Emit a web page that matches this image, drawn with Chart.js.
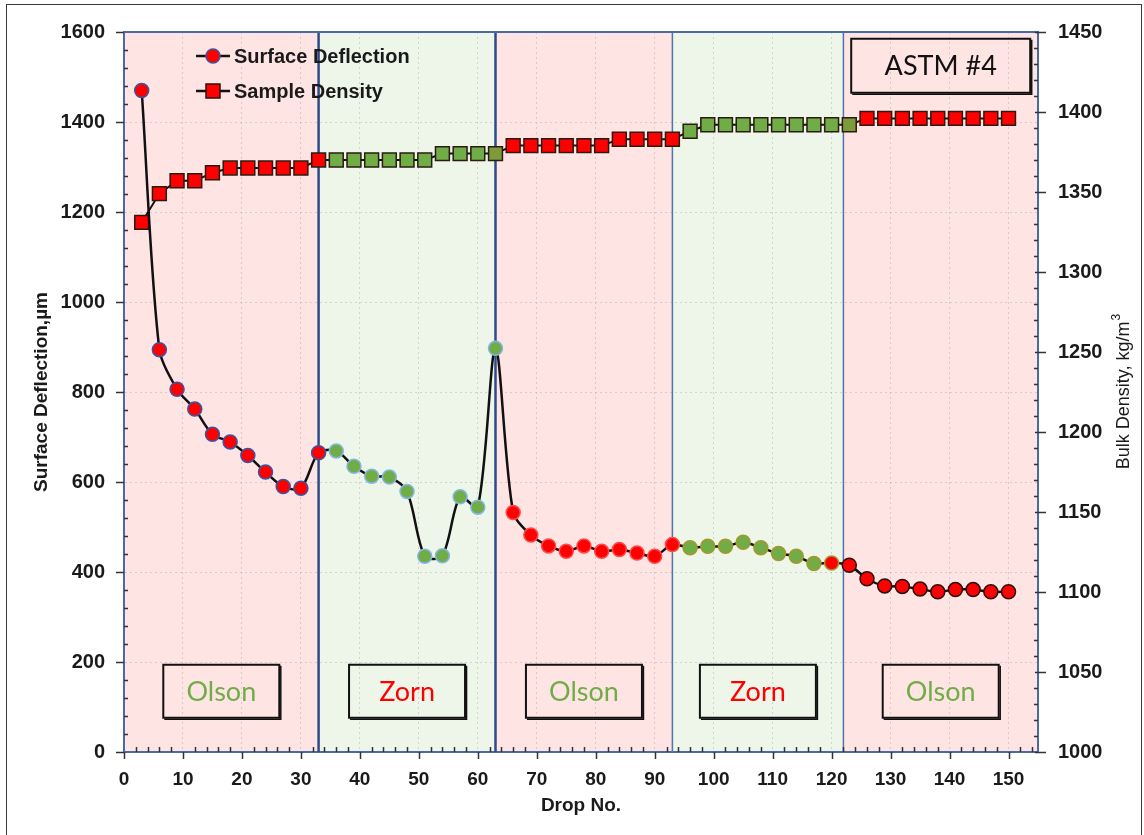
<!DOCTYPE html>
<html>
<head>
<meta charset="utf-8">
<title>ASTM #4 - Surface Deflection and Sample Density</title>
<script src="https://cdn.jsdelivr.net/npm/chart.js@4.4.1/dist/chart.umd.min.js"></script>
<style>
  html, body { margin: 0; padding: 0; background: #fff; overflow: hidden; }
  #frame {
    position: absolute; left: 6px; top: 4px; width: 1136px; height: 900px;
    border: 1.5px solid #3a3a3a; box-sizing: border-box;
  }
  #wrap { position: absolute; left: 0; top: 0; width: 1144px; height: 835px; }
</style>
</head>
<body>
<div id="frame"></div>
<div id="wrap"><canvas id="deflectionChart" width="1144" height="835"></canvas></div>
<script>
// drop numbers (every third drop was recorded)
const drops = [
  3, 6, 9, 12, 15, 18, 21, 24, 27, 30,
  33, 36, 39, 42, 45, 48, 51, 54, 57, 60,
  63, 66, 69, 72, 75, 78, 81, 84, 87, 90,
  93, 96, 99, 102, 105, 108, 111, 114, 117, 120,
  123, 126, 129, 132, 135, 138, 141, 144, 147, 150,
];

// surface deflection, µm (left axis)
const surfaceDeflection = [
  1470, 894, 806, 762, 706, 689, 659, 622, 590, 586,
  665, 669, 635, 613, 611, 579, 435, 436, 567, 544,
  897, 532, 482, 458, 446, 458, 446, 450, 442, 435,
  461, 454, 457, 457, 466, 454, 441, 435, 419, 420,
  415, 385, 369, 368, 362, 356, 361, 361, 356, 356,
];

// bulk density, kg/m3 (right axis)
const sampleDensity = [
  1331, 1349, 1357, 1357, 1362, 1365, 1365, 1365, 1365, 1365,
  1370, 1370, 1370, 1370, 1370, 1370, 1370, 1374, 1374, 1374,
  1374, 1379, 1379, 1379, 1379, 1379, 1379, 1383, 1383, 1383,
  1383, 1388, 1392, 1392, 1392, 1392, 1392, 1392, 1392, 1392,
  1392, 1396, 1396, 1396, 1396, 1396, 1396, 1396, 1396, 1396,
];

// who compacted which stretch of drops
const regionEdges = [0, 33, 63, 93, 122, 155];
const regionNames = ["Olson", "Zorn", "Olson", "Zorn", "Olson"];
const deflectionZornDrops = [[36, 63], [96, 117]];
const densityZornDrops = [[36, 63], [96, 123]];
const specimenName = "ASTM #4";

const FONT = "'Liberation Sans', Arial, sans-serif";
const LABEL_FONT = "Lato, 'Open Sans', sans-serif";
const RED = "#ff0000";
const GREEN = "#70ad47";
const OLIVE = "#7e9b3c";
const AXIS = "#4a69a6";
const GRID = "rgba(170, 170, 170, 0.45)";
const BAND = { Olson: "#ffe4e4", Zorn: "#eef6ea" };
const NAME_COLOR = { Olson: "#70ad47", Zorn: "#ff0000" };
const DEFLECTION_RIM = ["#3d55a0", "#86b6e6", "#ff4a4a", "#a8962e", "#2a1010"];

Chart.defaults.font.family = FONT;
Chart.defaults.color = "#1a1a1a";

const inRanges = (d, ranges) => ranges.some(([a, b]) => d >= a && d <= b);
const regionOf = (d) => {
  for (let i = 0; i < regionNames.length; i++) {
    if (d > regionEdges[i] && d <= regionEdges[i + 1]) return i;
  }
  return regionNames.length - 1;
};

const deflectionFill = drops.map((d) => (inRanges(d, deflectionZornDrops) ? GREEN : RED));
const deflectionRim = drops.map((d) => DEFLECTION_RIM[regionOf(d)]);
const densityFill = drops.map((d) => {
  const range = densityZornDrops.find(([a, b]) => d >= a && d <= b);
  if (!range) return RED;
  return d === range[1] ? OLIVE : GREEN;
});

const plainTick = (v) => String(v);

function framedText(ctx, text, cx, cy, w, h, color) {
  ctx.save();
  ctx.strokeStyle = "#111";
  ctx.lineWidth = 2;
  ctx.strokeRect(cx - w / 2, cy - h / 2, w, h);
  ctx.lineWidth = 1.5;
  ctx.beginPath();
  ctx.moveTo(cx - w / 2 + 1, cy + h / 2 + 1.5);
  ctx.lineTo(cx + w / 2 + 1.5, cy + h / 2 + 1.5);
  ctx.lineTo(cx + w / 2 + 1.5, cy - h / 2 + 1);
  ctx.stroke();
  ctx.fillStyle = color;
  ctx.font = `27px ${LABEL_FONT}`;
  ctx.textAlign = "center";
  ctx.textBaseline = "middle";
  ctx.fillText(text, cx, cy + 1);
  ctx.restore();
}

const regionsPlugin = {
  id: "regions",
  beforeDraw(chart) {
    const { ctx, chartArea: a, scales: { x } } = chart;
    ctx.save();
    regionNames.forEach((name, i) => {
      const x0 = x.getPixelForValue(regionEdges[i]);
      const x1 = x.getPixelForValue(regionEdges[i + 1]);
      ctx.fillStyle = BAND[name];
      ctx.fillRect(x0, a.top, x1 - x0, a.bottom - a.top);
    });
    ctx.restore();
  },
  beforeDatasetsDraw(chart) {
    const { ctx, chartArea: a, scales: { x } } = chart;
    ctx.save();
    regionEdges.slice(1, -1).forEach((edge, i) => {
      const px = x.getPixelForValue(edge);
      ctx.strokeStyle = i < 2 ? "#2d4a8a" : "#5472ad";
      ctx.lineWidth = i < 2 ? 2.5 : 1.5;
      ctx.beginPath();
      ctx.moveTo(px, a.top);
      ctx.lineTo(px, a.bottom);
      ctx.stroke();
    });
    // top edge of the plot
    ctx.strokeStyle = AXIS;
    ctx.lineWidth = 2;
    ctx.beginPath();
    ctx.moveTo(a.left, a.top);
    ctx.lineTo(a.right, a.top);
    ctx.stroke();
    ctx.restore();
  },
  afterDraw(chart) {
    const { ctx, chartArea: a, scales: { x, y, y1 } } = chart;
    ctx.save();

    // major and minor tick marks
    ctx.strokeStyle = "#333";
    ctx.lineWidth = 1.5;
    ctx.beginPath();
    for (let v = 0; v <= 1600; v += 40) {
      const py = Math.round(y.getPixelForValue(v)) + 0.5;
      if (v % 200 === 0) { ctx.moveTo(a.left - 8, py); ctx.lineTo(a.left, py); }
      else { ctx.moveTo(a.left, py); ctx.lineTo(a.left + 4, py); }
    }
    for (let v = 1000; v <= 1450; v += 10) {
      const py = Math.round(y1.getPixelForValue(v)) + 0.5;
      if (v % 50 === 0) { ctx.moveTo(a.right - 3, py); ctx.lineTo(a.right + 8, py); }
      else { ctx.moveTo(a.right - 4, py); ctx.lineTo(a.right, py); }
    }
    for (let v = 0; v <= 154; v += 2) {
      const px = Math.round(x.getPixelForValue(v)) + 0.5;
      if (v % 10 === 0) { ctx.moveTo(px, a.bottom); ctx.lineTo(px, a.bottom + 7); }
      else { ctx.moveTo(px, a.bottom - 5); ctx.lineTo(px, a.bottom); }
    }
    ctx.stroke();

    // operator labels, one per stretch
    const labelY = y.getPixelForValue(135);
    regionNames.forEach((name, i) => {
      const cx = x.getPixelForValue((regionEdges[i] + regionEdges[i + 1]) / 2);
      framedText(ctx, name, cx, labelY, 116, 53, NAME_COLOR[name]);
    });
    const last = regionNames.length - 1;
    framedText(
      ctx, specimenName,
      x.getPixelForValue((regionEdges[last] + regionEdges[last + 1]) / 2),
      y.getPixelForValue(1525), 179, 54, "#111"
    );

    // legend
    const lx = a.left + 72;
    const rows = [
      { text: "Surface Deflection", ly: a.top + 24, square: false },
      { text: "Sample Density", ly: a.top + 59, square: true },
    ];
    rows.forEach((r) => {
      ctx.strokeStyle = "#111";
      ctx.lineWidth = 2.5;
      ctx.beginPath();
      ctx.moveTo(lx, r.ly);
      ctx.lineTo(lx + 34, r.ly);
      ctx.stroke();
      ctx.fillStyle = RED;
      ctx.lineWidth = 1.5;
      if (r.square) {
        ctx.strokeStyle = "#2a1010";
        ctx.fillRect(lx + 10, r.ly - 7, 14, 14);
        ctx.strokeRect(lx + 10, r.ly - 7, 14, 14);
      } else {
        ctx.strokeStyle = DEFLECTION_RIM[0];
        ctx.beginPath();
        ctx.arc(lx + 17, r.ly, 7, 0, Math.PI * 2);
        ctx.fill();
        ctx.stroke();
      }
      ctx.fillStyle = "#1a1a1a";
      ctx.font = `bold 20px ${FONT}`;
      ctx.textAlign = "left";
      ctx.textBaseline = "middle";
      ctx.fillText(r.text, lx + 38, r.ly + 1);
    });

    // right axis title, reading upwards, with a raised 3
    const main = "Bulk Density, kg/m";
    ctx.font = `18px ${FONT}`;
    const wMain = ctx.measureText(main).width;
    ctx.font = `12px ${FONT}`;
    const wSup = ctx.measureText("3").width;
    ctx.translate(1129, (a.top + a.bottom) / 2);
    ctx.rotate(-Math.PI / 2);
    ctx.fillStyle = "#1a1a1a";
    ctx.textAlign = "left";
    ctx.textBaseline = "alphabetic";
    const start = -(wMain + wSup) / 2;
    ctx.font = `18px ${FONT}`;
    ctx.fillText(main, start, 0);
    ctx.font = `12px ${FONT}`;
    ctx.fillText("3", start + wMain + 1, -9);
    ctx.restore();
  },
};

new Chart(document.getElementById("deflectionChart"), {
  type: "line",
  data: {
    datasets: [
      {
        label: "Surface Deflection",
        data: drops.map((d, i) => ({ x: d, y: surfaceDeflection[i] })),
        yAxisID: "y",
        borderColor: "#111",
        borderWidth: 2.5,
        tension: 0.3,
        pointRadius: 7,
        pointBorderWidth: 1.5,
        pointBackgroundColor: deflectionFill,
        pointBorderColor: deflectionRim,
        order: 1,
      },
      {
        label: "Sample Density",
        data: drops.map((d, i) => ({ x: d, y: sampleDensity[i] })),
        yAxisID: "y1",
        borderColor: "#111",
        borderWidth: 2,
        tension: 0,
        pointStyle: "rect",
        pointRadius: 9.8,
        pointBorderWidth: 1.5,
        pointBackgroundColor: densityFill,
        pointBorderColor: "#2a1a10",
        order: 2,
      },
    ],
  },
  options: {
    responsive: false,
    animation: false,
    events: [],
    layout: { padding: { top: 25, left: 0, right: 0, bottom: 0 } },
    plugins: { legend: { display: false }, tooltip: { enabled: false } },
    scales: {
      x: {
        type: "linear",
        min: 0,
        max: 155,
        ticks: {
          stepSize: 10,
          includeBounds: false,
          padding: 16,
          maxRotation: 0,
          color: "#1a1a1a",
          font: { size: 19, weight: "bold" },
          callback: plainTick,
        },
        grid: { color: GRID, drawTicks: false },
        border: { color: AXIS, width: 2, dash: [2, 3] },
        title: {
          display: true,
          text: "Drop No.",
          color: "#1a1a1a",
          font: { size: 19, weight: "bold" },
          padding: { top: 0, bottom: 18 },
        },
        afterFit: (s) => { s.height = 83; },
      },
      y: {
        position: "left",
        min: 0,
        max: 1600,
        ticks: {
          stepSize: 200,
          padding: 19,
          color: "#1a1a1a",
          font: { size: 20, weight: "bold" },
          callback: plainTick,
        },
        grid: { color: GRID, drawTicks: false },
        border: { color: AXIS, width: 2, dash: [2, 3] },
        title: {
          display: true,
          text: "Surface Deflection,µm",
          color: "#1a1a1a",
          font: { size: 19, weight: "bold" },
          padding: { top: 30, bottom: 0 },
        },
        afterFit: (s) => { s.width = 124; },
      },
      y1: {
        position: "right",
        min: 1000,
        max: 1450,
        ticks: {
          stepSize: 50,
          padding: 20,
          color: "#1a1a1a",
          font: { size: 20, weight: "bold" },
          callback: plainTick,
        },
        grid: { drawOnChartArea: false, drawTicks: false },
        border: { color: AXIS, width: 2 },
        afterFit: (s) => { s.width = 106; },
      },
    },
  },
  plugins: [regionsPlugin],
});
</script>
</body>
</html>
